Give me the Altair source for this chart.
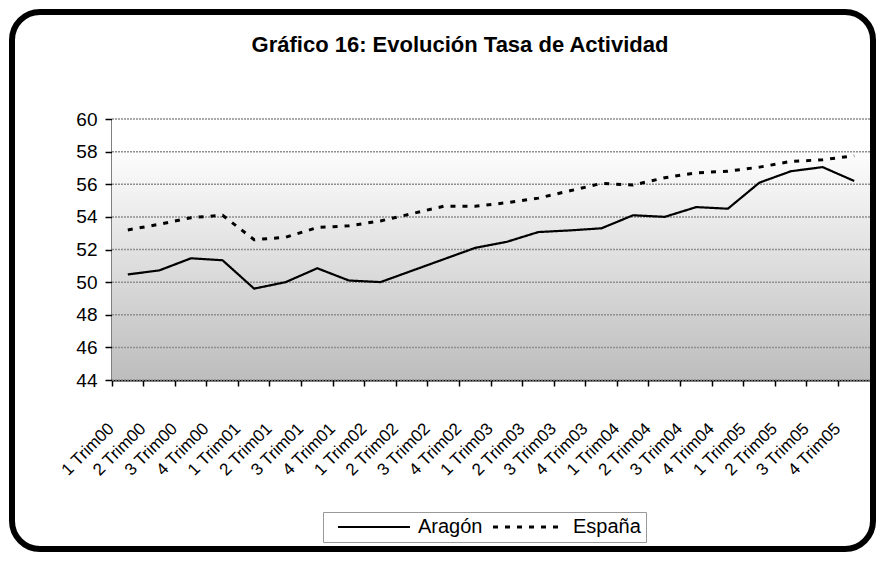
import altair as alt
import pandas as pd

quarters = ["1 Trim00", "2 Trim00", "3 Trim00", "4 Trim00",
            "1 Trim01", "2 Trim01", "3 Trim01", "4 Trim01",
            "1 Trim02", "2 Trim02", "3 Trim02", "4 Trim02",
            "1 Trim03", "2 Trim03", "3 Trim03", "4 Trim03",
            "1 Trim04", "2 Trim04", "3 Trim04", "4 Trim04",
            "1 Trim05", "2 Trim05", "3 Trim05", "4 Trim05"]
aragon = [50.47, 50.72, 51.46, 51.34, 49.6, 50.0, 50.85, 50.1,
          50.0, 50.7, 51.4, 52.1, 52.47, 53.07, 53.17, 53.3,
          54.1, 54.0, 54.6, 54.5, 56.1, 56.8, 57.05, 56.2]
espana = [53.2, 53.55, 53.95, 54.1, 52.6, 52.75, 53.35, 53.45,
          53.75, 54.2, 54.65, 54.65, 54.87, 55.15, 55.6, 56.05,
          55.95, 56.4, 56.7, 56.8, 57.05, 57.4, 57.5, 57.75]
series = ["Aragón", "España"]
y_ticks = [44, 46, 48, 50, 52, 54, 56, 58, 60]
title_text = "Gráfico 16: Evolución Tasa de Actividad"

rows = []
for q, a, e in zip(quarters, aragon, espana):
    rows.append({"q": q, "serie": series[0], "v": a})
    rows.append({"q": q, "serie": series[1], "v": e})
df = pd.DataFrame(rows)

W, H = 758, 261
PL, PT = 104, 111
TOTW, TOTH = 869, 545
FONT = "Liberation Sans"

grad = alt.LinearGradient(
    gradient="linear",
    stops=[alt.GradientStop(offset=0, color="#ffffff"),
           alt.GradientStop(offset=0.1, color="#ffffff"),
           alt.GradientStop(offset=1, color="#bdbdbd")],
    x1=0, x2=0, y1=0, y2=1)

one = pd.DataFrame({"a": [0]})

bg = alt.Chart(one).mark_rect(fill=grad).encode(
    x=alt.value(0), x2=alt.value(W), y=alt.value(0), y2=alt.value(H))

yscale = alt.Scale(domain=[44, 60], nice=False, zero=False)
yaxis = alt.Axis(title=None, values=y_ticks, labelFontSize=19,
                 labelFont=FONT, labelColor="black", labelPadding=8,
                 labelOverlap=False,
                 domainColor="black", domainWidth=2,
                 tickColor="black", tickSize=7, tickWidth=1.5,
                 grid=False)

grid = alt.Chart(pd.DataFrame({"g": y_ticks})).mark_rule(
    color="#8f8f8f", strokeWidth=1.5, strokeDash=[2, 1]).encode(
    y=alt.Y("g:Q", scale=yscale, axis=yaxis))

frame = alt.Chart(one).mark_rect(
    fill=None, stroke="black", strokeWidth=6, cornerRadius=28).encode(
    x=alt.value(4 - PL), x2=alt.value(TOTW - 4 - PL),
    y=alt.value(4 - PT), y2=alt.value(TOTH - 4 - PT))

title = alt.Chart(pd.DataFrame({"t": [title_text]})).mark_text(
    font=FONT, fontSize=22, fontWeight="bold", color="black",
    align="center", baseline="middle").encode(
    text="t:N", x=alt.value(460 - 8 - PL), y=alt.value(45 - 8 - PT))

xscale = alt.Scale(type="band", paddingInner=0, paddingOuter=0, domain=quarters)

lines = alt.Chart(df).mark_line(color="black").encode(
    x=alt.X("q:N", scale=xscale, sort=quarters,
            axis=alt.Axis(title=None, labelAngle=-45, bandPosition=0,
                          labelOffset=-22, labelPadding=34,
                          labelFontSize=17, labelFont=FONT, labelColor="black",
                          domainColor="black", domainWidth=2,
                          tickColor="black", tickSize=6, tickWidth=1.5,
                          grid=False, labelOverlap=False)),
    y=alt.Y("v:Q", scale=yscale, axis=yaxis),
    strokeWidth=alt.StrokeWidth("serie:N", sort=series,
                                scale=alt.Scale(domain=series, range=[2.2, 3]),
                                legend=None),
    strokeDash=alt.StrokeDash("serie:N", sort=series,
                              scale=alt.Scale(domain=series, range=[[1, 0], [5, 7]]),
                              legend=alt.Legend(
                                  title=None, orient="none", direction="horizontal",
                                  legendX=315 - PL, legendY=504 - PT,
                                  symbolType="M0,0H16", symbolSize=81,
                                  symbolStrokeColor="black", symbolStrokeWidth=2,
                                  symbolDashOffset=0,
                                  labelFontSize=20, labelFont=FONT, labelColor="black",
                                  labelOffset=70, columnPadding=0, padding=5,
                                  strokeColor="#999999", fillColor="white")),
    order=alt.Order("idx:Q"),
).transform_calculate(idx="indexof(" + str(quarters) + ", datum.q)")

chart = alt.layer(bg, grid, lines, frame, title).properties(
    width=W, height=H,
    autosize=alt.AutoSizeParams(type="none"),
    padding={"left": PL, "top": PT, "right": TOTW - PL - W, "bottom": TOTH - PT - H},
).configure_view(stroke="#9a9a9a", strokeWidth=1.5).configure(background="white")

chart.save("out.html", embed_options={"renderer": "svg", "actions": False})
